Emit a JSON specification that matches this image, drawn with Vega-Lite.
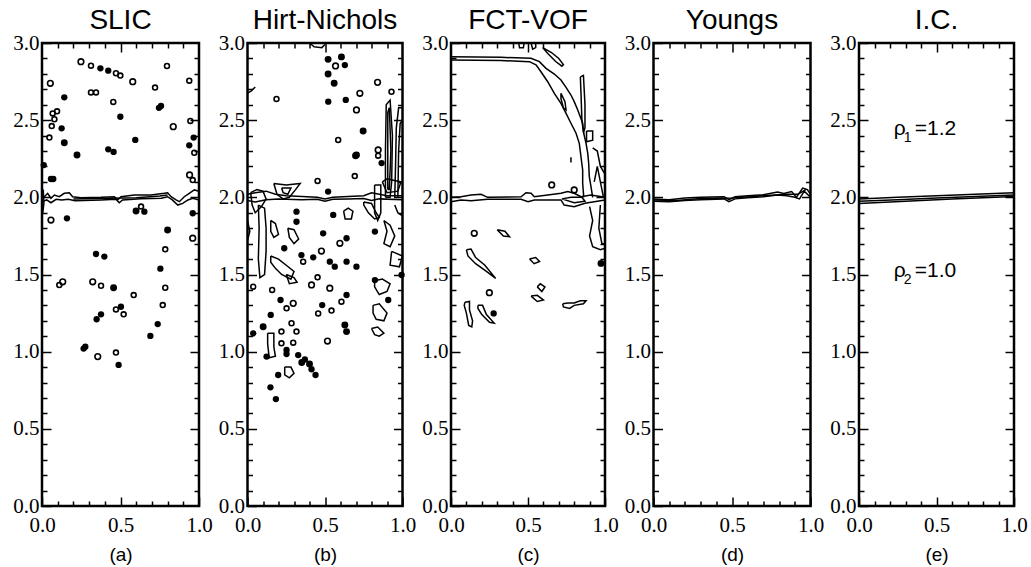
{
"$schema": "https://vega.github.io/schema/vega-lite/v6.json",
"background": "white",
"padding": {"left": 11, "top": 5, "right": 5, "bottom": 5},
"bounds": "flush",
"spacing": 48.5,
"config": {
  "view": {"stroke": "black", "strokeWidth": 2.5},
  "axis": {"domain": false, "grid": false, "labelFont": "Liberation Serif", "labelFontSize": 21, "labelColor": "black", "tickColor": "black", "tickWidth": 1.5, "labelOverlap": false, "labelFlush": false, "labelBound": false, "titleFont": "Liberation Sans", "titleFontSize": 19, "titleFontWeight": "normal", "titleColor": "black"},
  "axisBottom": {"labelPadding": 17, "titlePadding": 10},
  "axisLeft": {"labelPadding": 12},
  "title": {"font": "Liberation Sans", "fontSize": 28, "fontWeight": "normal", "color": "black", "baseline": "alphabetic", "offset": -3, "anchor": "middle"}
},
"datasets": {
  "frame": [{"x": 0, "y": 0}],
  "txt": [
    {"p": "e", "x": 0.224, "y": 2.404, "r": "ρ", "s": "1", "v": "=1.2"},
    {"p": "e", "x": 0.224, "y": 1.486, "r": "ρ", "s": "2", "v": "=1.0"}
  ],
  "pts": [
    {"p":"a","k":"O","x":0.248,"y":2.879},{"p":"a","k":"o","x":0.312,"y":2.853},{"p":"a","k":"d","x":0.372,"y":2.836},{"p":"a","k":"d","x":0.422,"y":2.821},{"p":"a","k":"o","x":0.471,"y":2.804},{"p":"a","k":"o","x":0.499,"y":2.789},{"p":"a","k":"O","x":0.578,"y":2.749},{"p":"a","k":"o","x":0.796,"y":2.851},{"p":"a","k":"o","x":0.72,"y":2.711},{"p":"a","k":"o","x":0.938,"y":2.756},{"p":"a","k":"O","x":0.053,"y":2.739},{"p":"a","k":"d","x":0.142,"y":2.648},{"p":"a","k":"o","x":0.312,"y":2.68},{"p":"a","k":"o","x":0.344,"y":2.68},{"p":"a","k":"o","x":0.454,"y":2.618},{"p":"a","k":"d","x":0.758,"y":2.592},{"p":"a","k":"d","x":0.745,"y":2.58},{"p":"a","k":"d","x":0.499,"y":2.522},{"p":"a","k":"o","x":0.068,"y":2.544},{"p":"a","k":"o","x":0.096,"y":2.557},{"p":"a","k":"o","x":0.079,"y":2.506},{"p":"a","k":"o","x":0.062,"y":2.462},{"p":"a","k":"o","x":0.047,"y":2.387},{"p":"a","k":"d","x":0.125,"y":2.447},{"p":"a","k":"t","x":0.142,"y":2.354},{"p":"a","k":"O","x":0.836,"y":2.458},{"p":"a","k":"o","x":0.945,"y":2.495},{"p":"a","k":"d","x":0.966,"y":2.387},{"p":"a","k":"d","x":0.594,"y":2.372},{"p":"a","k":"d","x":0.422,"y":2.311},{"p":"a","k":"d","x":0.456,"y":2.294},{"p":"a","k":"d","x":0.938,"y":2.337},{"p":"a","k":"o","x":0.97,"y":2.289},{"p":"a","k":"t","x":0.223,"y":2.274},{"p":"a","k":"d","x":0.011,"y":2.209},{"p":"a","k":"d","x":0.057,"y":2.119},{"p":"a","k":"d","x":0.072,"y":2.119},{"p":"a","k":"O","x":0.94,"y":2.145},{"p":"a","k":"o","x":0.96,"y":2.112},{"p":"a","k":"o","x":0.631,"y":1.94},{"p":"a","k":"d","x":0.652,"y":1.907},{"p":"a","k":"t","x":0.599,"y":1.911},{"p":"a","k":"O","x":0.057,"y":1.853},{"p":"a","k":"d","x":0.159,"y":1.864},{"p":"a","k":"t","x":0.8,"y":1.788},{"p":"a","k":"d","x":0.96,"y":1.897},{"p":"a","k":"O","x":0.96,"y":1.735},{"p":"a","k":"o","x":0.785,"y":1.663},{"p":"a","k":"d","x":0.344,"y":1.633},{"p":"a","k":"d","x":0.397,"y":1.616},{"p":"a","k":"d","x":0.754,"y":1.538},{"p":"a","k":"O","x":0.132,"y":1.453},{"p":"a","k":"o","x":0.11,"y":1.432},{"p":"a","k":"O","x":0.323,"y":1.453},{"p":"a","k":"o","x":0.376,"y":1.427},{"p":"a","k":"t","x":0.456,"y":1.414},{"p":"a","k":"o","x":0.785,"y":1.414},{"p":"a","k":"o","x":0.584,"y":1.367},{"p":"a","k":"o","x":0.769,"y":1.302},{"p":"a","k":"o","x":0.471,"y":1.274},{"p":"a","k":"d","x":0.503,"y":1.291},{"p":"a","k":"o","x":0.52,"y":1.242},{"p":"a","k":"d","x":0.376,"y":1.242},{"p":"a","k":"d","x":0.348,"y":1.21},{"p":"a","k":"d","x":0.737,"y":1.179},{"p":"a","k":"d","x":0.69,"y":1.102},{"p":"a","k":"d","x":0.276,"y":1.032},{"p":"a","k":"d","x":0.265,"y":1.02},{"p":"a","k":"O","x":0.355,"y":0.968},{"p":"a","k":"o","x":0.471,"y":0.994},{"p":"a","k":"d","x":0.488,"y":0.914},
    {"p":"b","k":"t","x":0.52,"y":2.894},{"p":"b","k":"O","x":0.568,"y":2.851},{"p":"b","k":"d","x":0.628,"y":2.857},{"p":"b","k":"t","x":0.606,"y":2.91},{"p":"b","k":"t","x":0.52,"y":2.799},{"p":"b","k":"t","x":0.559,"y":2.739},{"p":"b","k":"o","x":0.187,"y":2.637},{"p":"b","k":"O","x":0.839,"y":2.745},{"p":"b","k":"o","x":0.929,"y":2.684},{"p":"b","k":"O","x":0.725,"y":2.674},{"p":"b","k":"d","x":0.521,"y":2.62},{"p":"b","k":"d","x":0.634,"y":2.631},{"p":"b","k":"O","x":0.703,"y":2.566},{"p":"b","k":"t","x":0.746,"y":2.43},{"p":"b","k":"o","x":0.585,"y":2.372},{"p":"b","k":"t","x":0.703,"y":2.274},{"p":"b","k":"o","x":0.692,"y":2.138},{"p":"b","k":"o","x":0.452,"y":2.106},{"p":"b","k":"O","x":0.843,"y":2.307},{"p":"b","k":"o","x":0.843,"y":2.27},{"p":"b","k":"d","x":0.865,"y":2.222},{"p":"b","k":"d","x":0.316,"y":1.907},{"p":"b","k":"d","x":0.553,"y":1.886},{"p":"b","k":"d","x":0.52,"y":2.037},{"p":"b","k":"t","x":0.697,"y":2.27},{"p":"b","k":"d","x":0.316,"y":1.842},{"p":"b","k":"d","x":0.488,"y":1.767},{"p":"b","k":"O","x":0.596,"y":1.702},{"p":"b","k":"d","x":0.639,"y":1.735},{"p":"b","k":"d","x":0.822,"y":1.778},{"p":"b","k":"d","x":0.237,"y":1.67},{"p":"b","k":"O","x":0.477,"y":1.652},{"p":"b","k":"d","x":0.348,"y":1.626},{"p":"b","k":"d","x":0.424,"y":1.611},{"p":"b","k":"d","x":0.531,"y":1.583},{"p":"b","k":"d","x":0.563,"y":1.551},{"p":"b","k":"d","x":0.639,"y":1.583},{"p":"b","k":"d","x":0.703,"y":1.551},{"p":"b","k":"o","x":0.359,"y":1.583},{"p":"b","k":"o","x":0.452,"y":1.482},{"p":"b","k":"O","x":0.413,"y":1.432},{"p":"b","k":"O","x":0.531,"y":1.411},{"p":"b","k":"o","x":0.037,"y":1.421},{"p":"b","k":"o","x":0.159,"y":1.4},{"p":"b","k":"d","x":0.213,"y":1.335},{"p":"b","k":"O","x":0.295,"y":1.313},{"p":"b","k":"o","x":0.252,"y":1.281},{"p":"b","k":"d","x":0.639,"y":1.367},{"p":"b","k":"o","x":0.606,"y":1.324},{"p":"b","k":"d","x":0.482,"y":1.302},{"p":"b","k":"o","x":0.542,"y":1.266},{"p":"b","k":"o","x":0.456,"y":1.248},{"p":"b","k":"d","x":0.15,"y":1.238},{"p":"b","k":"d","x":0.822,"y":1.464},{"p":"b","k":"d","x":0.908,"y":1.335},{"p":"b","k":"d","x":0.994,"y":1.497},{"p":"b","k":"t","x":0.628,"y":1.173},{"p":"b","k":"t","x":0.639,"y":1.13},{"p":"b","k":"o","x":0.284,"y":1.184},{"p":"b","k":"o","x":0.219,"y":1.13},{"p":"b","k":"o","x":0.316,"y":1.13},{"p":"b","k":"O","x":0.516,"y":1.069},{"p":"b","k":"d","x":0.037,"y":1.119},{"p":"b","k":"t","x":0.101,"y":1.162},{"p":"b","k":"d","x":0.123,"y":0.968},{"p":"b","k":"d","x":0.252,"y":1.011},{"p":"b","k":"o","x":0.219,"y":1.054},{"p":"b","k":"o","x":0.295,"y":1.058},{"p":"b","k":"d","x":0.327,"y":0.978},{"p":"b","k":"d","x":0.37,"y":0.95},{"p":"b","k":"d","x":0.413,"y":0.886},{"p":"b","k":"d","x":0.439,"y":0.849},{"p":"b","k":"d","x":0.252,"y":0.985},{"p":"b","k":"d","x":0.198,"y":0.849},{"p":"b","k":"d","x":0.148,"y":0.769},{"p":"b","k":"d","x":0.183,"y":0.693},{"p":"b","k":"t","x":0.4,"y":0.92},{"p":"b","k":"t","x":0.35,"y":0.93},
    {"p":"c","k":"O","x":0.151,"y":1.767},{"p":"c","k":"O","x":0.249,"y":1.382},{"p":"c","k":"O","x":0.654,"y":2.08},{"p":"c","k":"O","x":0.8,"y":2.048},{"p":"c","k":"d","x":0.277,"y":1.248},{"p":"c","k":"t","x":0.974,"y":1.572}
  ],
  "lines": [
    {"p":"a","id":"a1","x":0,"y":1.987},{"p":"a","id":"a1","x":0.015,"y":2.004},{"p":"a","id":"a1","x":0.036,"y":2.026},{"p":"a","id":"a1","x":0.057,"y":1.994},{"p":"a","id":"a1","x":0.079,"y":2.015},{"p":"a","id":"a1","x":0.11,"y":2.004},{"p":"a","id":"a1","x":0.142,"y":2.026},{"p":"a","id":"a1","x":0.174,"y":2.03},{"p":"a","id":"a1","x":0.195,"y":2.004},{"p":"a","id":"a1","x":0.248,"y":1.998},{"p":"a","id":"a1","x":0.376,"y":2.0},{"p":"a","id":"a1","x":0.461,"y":2.004},{"p":"a","id":"a1","x":0.482,"y":1.983},{"p":"a","id":"a1","x":0.503,"y":2.004},{"p":"a","id":"a1","x":0.588,"y":2.015},{"p":"a","id":"a1","x":0.694,"y":2.015},{"p":"a","id":"a1","x":0.779,"y":2.026},{"p":"a","id":"a1","x":0.8,"y":2.03},{"p":"a","id":"a1","x":0.822,"y":2.004},{"p":"a","id":"a1","x":0.854,"y":1.983},{"p":"a","id":"a1","x":0.875,"y":1.972},{"p":"a","id":"a1","x":0.906,"y":2.004},{"p":"a","id":"a1","x":0.938,"y":2.026},{"p":"a","id":"a1","x":0.97,"y":2.048},{"p":"a","id":"a1","x":1,"y":2.04},
    {"p":"a","id":"a2","x":0,"y":1.972},{"p":"a","id":"a2","x":0.03,"y":1.983},{"p":"a","id":"a2","x":0.057,"y":1.965},{"p":"a","id":"a2","x":0.09,"y":1.987},{"p":"a","id":"a2","x":0.125,"y":1.983},{"p":"a","id":"a2","x":0.168,"y":1.987},{"p":"a","id":"a2","x":0.21,"y":1.978},{"p":"a","id":"a2","x":0.376,"y":1.983},{"p":"a","id":"a2","x":0.471,"y":1.987},{"p":"a","id":"a2","x":0.492,"y":1.965},{"p":"a","id":"a2","x":0.513,"y":1.983},{"p":"a","id":"a2","x":0.63,"y":1.991},{"p":"a","id":"a2","x":0.76,"y":1.994},{"p":"a","id":"a2","x":0.8,"y":2.004},{"p":"a","id":"a2","x":0.83,"y":1.983},{"p":"a","id":"a2","x":0.865,"y":1.95},{"p":"a","id":"a2","x":0.896,"y":1.961},{"p":"a","id":"a2","x":0.93,"y":1.983},{"p":"a","id":"a2","x":0.96,"y":1.994},{"p":"a","id":"a2","x":1,"y":1.983},
    {"p":"a","id":"a3","x":0.005,"y":1.9},{"p":"a","id":"a3","x":0.012,"y":1.96},{"p":"a","id":"a3","x":0.008,"y":2.05},
    {"p":"a","id":"a4","x":0.2,"y":1.99},{"p":"a","id":"a4","x":0.35,"y":1.992},{"p":"a","id":"a4","x":0.6,"y":1.997},{"p":"a","id":"a4","x":0.75,"y":2.008},{"p":"a","id":"a4","x":0.8,"y":2.015},
    {"p":"b","id":"b1","x":0,"y":2.02},{"p":"b","id":"b1","x":0.05,"y":2.03},{"p":"b","id":"b1","x":0.12,"y":2.04},{"p":"b","id":"b1","x":0.18,"y":2.02},{"p":"b","id":"b1","x":0.25,"y":2.01},{"p":"b","id":"b1","x":0.35,"y":2.005},{"p":"b","id":"b1","x":0.45,"y":2.0},{"p":"b","id":"b1","x":0.5,"y":1.99},{"p":"b","id":"b1","x":0.55,"y":2.0},{"p":"b","id":"b1","x":0.65,"y":2.005},{"p":"b","id":"b1","x":0.75,"y":2.01},{"p":"b","id":"b1","x":0.8,"y":2.03},{"p":"b","id":"b1","x":0.85,"y":2.02},{"p":"b","id":"b1","x":0.9,"y":2.01},{"p":"b","id":"b1","x":1,"y":2.01},
    {"p":"b","id":"b2","x":0,"y":1.98},{"p":"b","id":"b2","x":0.05,"y":1.97},{"p":"b","id":"b2","x":0.12,"y":1.985},{"p":"b","id":"b2","x":0.2,"y":1.99},{"p":"b","id":"b2","x":0.35,"y":1.985},{"p":"b","id":"b2","x":0.45,"y":1.987},{"p":"b","id":"b2","x":0.5,"y":1.975},{"p":"b","id":"b2","x":0.55,"y":1.988},{"p":"b","id":"b2","x":0.65,"y":1.99},{"p":"b","id":"b2","x":0.75,"y":1.992},{"p":"b","id":"b2","x":0.8,"y":1.98},{"p":"b","id":"b2","x":0.85,"y":1.99},{"p":"b","id":"b2","x":1,"y":1.985},
    {"p":"b","id":"b3","x":0.02,"y":2.03},{"p":"b","id":"b3","x":0.06,"y":2.05},{"p":"b","id":"b3","x":0.1,"y":2.04},{"p":"b","id":"b3","x":0.12,"y":1.99},{"p":"b","id":"b3","x":0.09,"y":1.94},{"p":"b","id":"b3","x":0.05,"y":1.9},{"p":"b","id":"b3","x":0.03,"y":1.95},{"p":"b","id":"b3","x":0.02,"y":2.03},
    {"p":"b","id":"b4","x":0.17,"y":2.09},{"p":"b","id":"b4","x":0.25,"y":2.08},{"p":"b","id":"b4","x":0.34,"y":2.09},{"p":"b","id":"b4","x":0.31,"y":2.05},{"p":"b","id":"b4","x":0.27,"y":2.0},{"p":"b","id":"b4","x":0.23,"y":1.99},{"p":"b","id":"b4","x":0.19,"y":2.02},{"p":"b","id":"b4","x":0.17,"y":2.09},
    {"p":"b","id":"b4b","x":0.22,"y":2.06},{"p":"b","id":"b4b","x":0.28,"y":2.06},{"p":"b","id":"b4b","x":0.26,"y":2.02},{"p":"b","id":"b4b","x":0.23,"y":2.03},{"p":"b","id":"b4b","x":0.22,"y":2.06},
    {"p":"b","id":"b5","x":0.07,"y":1.95},{"p":"b","id":"b5","x":0.11,"y":1.93},{"p":"b","id":"b5","x":0.12,"y":1.8},{"p":"b","id":"b5","x":0.12,"y":1.65},{"p":"b","id":"b5","x":0.11,"y":1.5},{"p":"b","id":"b5","x":0.08,"y":1.48},{"p":"b","id":"b5","x":0.07,"y":1.6},{"p":"b","id":"b5","x":0.075,"y":1.8},{"p":"b","id":"b5","x":0.07,"y":1.95},
    {"p":"b","id":"b5b","x":0,"y":1.72},{"p":"b","id":"b5b","x":0.015,"y":1.78},{"p":"b","id":"b5b","x":0,"y":1.85},
    {"p":"b","id":"b6","x":0.75,"y":1.97},{"p":"b","id":"b6","x":0.8,"y":1.96},{"p":"b","id":"b6","x":0.83,"y":1.9},{"p":"b","id":"b6","x":0.85,"y":1.87},{"p":"b","id":"b6","x":0.82,"y":1.86},{"p":"b","id":"b6","x":0.78,"y":1.9},{"p":"b","id":"b6","x":0.75,"y":1.95},{"p":"b","id":"b6","x":0.75,"y":1.97},
    {"p":"b","id":"b7","x":0.82,"y":2.08},{"p":"b","id":"b7","x":0.86,"y":2.08},{"p":"b","id":"b7","x":0.86,"y":1.9},{"p":"b","id":"b7","x":0.84,"y":1.85},{"p":"b","id":"b7","x":0.82,"y":1.9},{"p":"b","id":"b7","x":0.82,"y":2.08},
    {"p":"b","id":"b8","x":0.89,"y":2.0},{"p":"b","id":"b8","x":0.89,"y":2.3},{"p":"b","id":"b8","x":0.895,"y":2.6},{"p":"b","id":"b8","x":0.92,"y":2.63},{"p":"b","id":"b8","x":0.935,"y":2.4},{"p":"b","id":"b8","x":0.93,"y":2.1},{"p":"b","id":"b8","x":0.92,"y":2.0},{"p":"b","id":"b8","x":0.89,"y":2.0},
    {"p":"b","id":"b9","x":0.905,"y":2.05},{"p":"b","id":"b9","x":0.905,"y":2.55},{"p":"b","id":"b9","x":0.915,"y":2.58},{"p":"b","id":"b9","x":0.925,"y":2.3},{"p":"b","id":"b9","x":0.915,"y":2.05},{"p":"b","id":"b9","x":0.905,"y":2.05},
    {"p":"b","id":"b10","x":0.95,"y":2.0},{"p":"b","id":"b10","x":0.955,"y":2.2},{"p":"b","id":"b10","x":0.96,"y":2.45},{"p":"b","id":"b10","x":0.975,"y":2.58},{"p":"b","id":"b10","x":1,"y":2.58},
    {"p":"b","id":"b10b","x":0.97,"y":2.0},{"p":"b","id":"b10b","x":0.975,"y":2.3},{"p":"b","id":"b10b","x":0.985,"y":2.48},{"p":"b","id":"b10b","x":1,"y":2.5},
    {"p":"b","id":"b11","x":0.87,"y":2.1},{"p":"b","id":"b11","x":0.9,"y":2.12},{"p":"b","id":"b11","x":0.99,"y":2.1},{"p":"b","id":"b11","x":0.97,"y":2.04},{"p":"b","id":"b11","x":0.9,"y":2.03},{"p":"b","id":"b11","x":0.87,"y":2.1},
    {"p":"b","id":"b12","x":0.88,"y":1.85},{"p":"b","id":"b12","x":0.92,"y":1.82},{"p":"b","id":"b12","x":0.95,"y":1.75},{"p":"b","id":"b12","x":0.92,"y":1.68},{"p":"b","id":"b12","x":0.88,"y":1.7},{"p":"b","id":"b12","x":0.9,"y":1.78},{"p":"b","id":"b12","x":0.88,"y":1.85},
    {"p":"b","id":"b13","x":0.93,"y":1.65},{"p":"b","id":"b13","x":1,"y":1.62},{"p":"b","id":"b13","x":0.98,"y":1.55},{"p":"b","id":"b13","x":0.92,"y":1.56},{"p":"b","id":"b13","x":0.93,"y":1.65},
    {"p":"b","id":"b13b","x":0.95,"y":1.95},{"p":"b","id":"b13b","x":0.97,"y":1.9},{"p":"b","id":"b13b","x":1,"y":1.88},
    {"p":"b","id":"b14","x":0.82,"y":1.46},{"p":"b","id":"b14","x":0.87,"y":1.47},{"p":"b","id":"b14","x":0.92,"y":1.44},{"p":"b","id":"b14","x":0.9,"y":1.39},{"p":"b","id":"b14","x":0.85,"y":1.37},{"p":"b","id":"b14","x":0.82,"y":1.42},{"p":"b","id":"b14","x":0.82,"y":1.46},
    {"p":"b","id":"b15","x":0.81,"y":1.3},{"p":"b","id":"b15","x":0.85,"y":1.31},{"p":"b","id":"b15","x":0.9,"y":1.25},{"p":"b","id":"b15","x":0.88,"y":1.2},{"p":"b","id":"b15","x":0.83,"y":1.21},{"p":"b","id":"b15","x":0.81,"y":1.25},{"p":"b","id":"b15","x":0.81,"y":1.3},
    {"p":"b","id":"b16","x":0.8,"y":1.15},{"p":"b","id":"b16","x":0.84,"y":1.16},{"p":"b","id":"b16","x":0.88,"y":1.12},{"p":"b","id":"b16","x":0.85,"y":1.1},{"p":"b","id":"b16","x":0.82,"y":1.11},{"p":"b","id":"b16","x":0.8,"y":1.15},
    {"p":"b","id":"b17","x":0.15,"y":1.62},{"p":"b","id":"b17","x":0.2,"y":1.6},{"p":"b","id":"b17","x":0.25,"y":1.56},{"p":"b","id":"b17","x":0.3,"y":1.52},{"p":"b","id":"b17","x":0.28,"y":1.47},{"p":"b","id":"b17","x":0.22,"y":1.5},{"p":"b","id":"b17","x":0.18,"y":1.54},{"p":"b","id":"b17","x":0.15,"y":1.58},{"p":"b","id":"b17","x":0.15,"y":1.62},
    {"p":"b","id":"b18","x":0.25,"y":1.5},{"p":"b","id":"b18","x":0.3,"y":1.48},{"p":"b","id":"b18","x":0.32,"y":1.45},{"p":"b","id":"b18","x":0.27,"y":1.44},{"p":"b","id":"b18","x":0.25,"y":1.5},
    {"p":"b","id":"b19","x":0.26,"y":1.8},{"p":"b","id":"b19","x":0.3,"y":1.79},{"p":"b","id":"b19","x":0.33,"y":1.73},{"p":"b","id":"b19","x":0.3,"y":1.7},{"p":"b","id":"b19","x":0.27,"y":1.74},{"p":"b","id":"b19","x":0.26,"y":1.8},
    {"p":"b","id":"b20","x":0.15,"y":1.85},{"p":"b","id":"b20","x":0.18,"y":1.83},{"p":"b","id":"b20","x":0.2,"y":1.76},{"p":"b","id":"b20","x":0.17,"y":1.74},{"p":"b","id":"b20","x":0.15,"y":1.78},{"p":"b","id":"b20","x":0.15,"y":1.85},
    {"p":"b","id":"b21","x":0.13,"y":1.12},{"p":"b","id":"b21","x":0.17,"y":1.12},{"p":"b","id":"b21","x":0.17,"y":1.03},{"p":"b","id":"b21","x":0.18,"y":0.97},{"p":"b","id":"b21","x":0.14,"y":0.96},{"p":"b","id":"b21","x":0.13,"y":1.05},{"p":"b","id":"b21","x":0.13,"y":1.12},
    {"p":"b","id":"b22","x":0.24,"y":0.9},{"p":"b","id":"b22","x":0.28,"y":0.9},{"p":"b","id":"b22","x":0.3,"y":0.86},{"p":"b","id":"b22","x":0.27,"y":0.83},{"p":"b","id":"b22","x":0.24,"y":0.85},{"p":"b","id":"b22","x":0.24,"y":0.9},
    {"p":"b","id":"b23","x":0.62,"y":1.91},{"p":"b","id":"b23","x":0.65,"y":1.93},{"p":"b","id":"b23","x":0.68,"y":1.91},{"p":"b","id":"b23","x":0.67,"y":1.86},{"p":"b","id":"b23","x":0.63,"y":1.86},{"p":"b","id":"b23","x":0.62,"y":1.91},
    {"p":"b","id":"b24","x":0.4,"y":3.0},{"p":"b","id":"b24","x":0.43,"y":2.975},{"p":"b","id":"b24","x":0.48,"y":2.97},{"p":"b","id":"b24","x":0.5,"y":2.99},
    {"p":"b","id":"b25","x":0,"y":2.675},{"p":"b","id":"b25","x":0.025,"y":2.69},{"p":"b","id":"b25","x":0.05,"y":2.715},
    {"p":"c","id":"c1","x":0,"y":2.0},{"p":"c","id":"c1","x":0.065,"y":2.004},{"p":"c","id":"c1","x":0.13,"y":2.015},{"p":"c","id":"c1","x":0.195,"y":2.02},{"p":"c","id":"c1","x":0.238,"y":2.0},{"p":"c","id":"c1","x":0.455,"y":2.004},{"p":"c","id":"c1","x":0.487,"y":2.03},{"p":"c","id":"c1","x":0.52,"y":2.026},{"p":"c","id":"c1","x":0.541,"y":2.004},{"p":"c","id":"c1","x":0.628,"y":2.015},{"p":"c","id":"c1","x":0.714,"y":2.026},{"p":"c","id":"c1","x":0.758,"y":2.037},{"p":"c","id":"c1","x":0.8,"y":2.026},{"p":"c","id":"c1","x":0.844,"y":2.004},{"p":"c","id":"c1","x":0.909,"y":2.015},{"p":"c","id":"c1","x":1,"y":2.0},
    {"p":"c","id":"c2","x":0,"y":1.972},{"p":"c","id":"c2","x":0.065,"y":1.983},{"p":"c","id":"c2","x":0.13,"y":1.978},{"p":"c","id":"c2","x":0.238,"y":1.987},{"p":"c","id":"c2","x":0.455,"y":1.987},{"p":"c","id":"c2","x":0.5,"y":1.972},{"p":"c","id":"c2","x":0.541,"y":1.983},{"p":"c","id":"c2","x":0.714,"y":1.983},{"p":"c","id":"c2","x":0.735,"y":1.95},{"p":"c","id":"c2","x":0.8,"y":1.939},{"p":"c","id":"c2","x":0.87,"y":1.961},{"p":"c","id":"c2","x":1,"y":1.983},
    {"p":"c","id":"c3","x":0.72,"y":1.99},{"p":"c","id":"c3","x":0.8,"y":1.965},{"p":"c","id":"c3","x":0.87,"y":1.975},{"p":"c","id":"c3","x":0.85,"y":2.0},{"p":"c","id":"c3","x":0.78,"y":2.0},{"p":"c","id":"c3","x":0.72,"y":1.99},
    {"p":"c","id":"c4","x":0,"y":2.911},{"p":"c","id":"c4","x":0.325,"y":2.907},{"p":"c","id":"c4","x":0.519,"y":2.901},{"p":"c","id":"c4","x":0.574,"y":2.879},{"p":"c","id":"c4","x":0.617,"y":2.836},{"p":"c","id":"c4","x":0.671,"y":2.799},{"p":"c","id":"c4","x":0.714,"y":2.76},{"p":"c","id":"c4","x":0.747,"y":2.713},{"p":"c","id":"c4","x":0.779,"y":2.663},{"p":"c","id":"c4","x":0.8,"y":2.62},{"p":"c","id":"c4","x":0.823,"y":2.566},{"p":"c","id":"c4","x":0.855,"y":2.48},{"p":"c","id":"c4","x":0.862,"y":2.415},{"p":"c","id":"c4","x":0.877,"y":2.35},{"p":"c","id":"c4","x":0.888,"y":2.285},{"p":"c","id":"c4","x":0.894,"y":2.221},{"p":"c","id":"c4","x":0.898,"y":2.134},{"p":"c","id":"c4","x":0.909,"y":2.069},{"p":"c","id":"c4","x":0.92,"y":2.0},
    {"p":"c","id":"c5","x":0,"y":2.89},{"p":"c","id":"c5","x":0.325,"y":2.886},{"p":"c","id":"c5","x":0.509,"y":2.879},{"p":"c","id":"c5","x":0.552,"y":2.858},{"p":"c","id":"c5","x":0.584,"y":2.814},{"p":"c","id":"c5","x":0.628,"y":2.749},{"p":"c","id":"c5","x":0.671,"y":2.674},{"p":"c","id":"c5","x":0.714,"y":2.609},{"p":"c","id":"c5","x":0.747,"y":2.544},{"p":"c","id":"c5","x":0.779,"y":2.48},{"p":"c","id":"c5","x":0.812,"y":2.415},{"p":"c","id":"c5","x":0.833,"y":2.35},{"p":"c","id":"c5","x":0.844,"y":2.263},{"p":"c","id":"c5","x":0.855,"y":2.177},{"p":"c","id":"c5","x":0.855,"y":2.091},{"p":"c","id":"c5","x":0.862,"y":2.0},
    {"p":"c","id":"c6","x":0.595,"y":2.97},{"p":"c","id":"c6","x":0.65,"y":2.94},{"p":"c","id":"c6","x":0.7,"y":2.9},{"p":"c","id":"c6","x":0.73,"y":2.86},{"p":"c","id":"c6","x":0.72,"y":2.85},{"p":"c","id":"c6","x":0.68,"y":2.88},{"p":"c","id":"c6","x":0.63,"y":2.93},{"p":"c","id":"c6","x":0.595,"y":2.97},
    {"p":"c","id":"c7","x":0.714,"y":2.674},{"p":"c","id":"c7","x":0.74,"y":2.62},{"p":"c","id":"c7","x":0.747,"y":2.566},{"p":"c","id":"c7","x":0.73,"y":2.58},{"p":"c","id":"c7","x":0.714,"y":2.64},{"p":"c","id":"c7","x":0.714,"y":2.674},
    {"p":"c","id":"c8","x":0.84,"y":2.78},{"p":"c","id":"c8","x":0.86,"y":2.79},{"p":"c","id":"c8","x":0.87,"y":2.6},{"p":"c","id":"c8","x":0.87,"y":2.45},{"p":"c","id":"c8","x":0.86,"y":2.42},{"p":"c","id":"c8","x":0.85,"y":2.5},{"p":"c","id":"c8","x":0.845,"y":2.65},{"p":"c","id":"c8","x":0.84,"y":2.78},
    {"p":"c","id":"c9","x":0.88,"y":2.43},{"p":"c","id":"c9","x":0.92,"y":2.43},{"p":"c","id":"c9","x":0.92,"y":2.37},{"p":"c","id":"c9","x":0.88,"y":2.36},{"p":"c","id":"c9","x":0.88,"y":2.43},
    {"p":"c","id":"c10","x":0.92,"y":2.32},{"p":"c","id":"c10","x":0.95,"y":2.3},{"p":"c","id":"c10","x":0.97,"y":2.2},{"p":"c","id":"c10","x":1,"y":2.15},
    {"p":"c","id":"c11","x":0.93,"y":2.1},{"p":"c","id":"c11","x":0.95,"y":2.2},{"p":"c","id":"c11","x":0.97,"y":2.1},{"p":"c","id":"c11","x":0.99,"y":2.0},
    {"p":"c","id":"c12","x":0.9,"y":1.94},{"p":"c","id":"c12","x":0.92,"y":1.85},{"p":"c","id":"c12","x":0.9,"y":1.75},{"p":"c","id":"c12","x":0.92,"y":1.68},{"p":"c","id":"c12","x":0.97,"y":1.66},{"p":"c","id":"c12","x":1,"y":1.67},
    {"p":"c","id":"c13","x":0.97,"y":1.95},{"p":"c","id":"c13","x":0.96,"y":1.8},{"p":"c","id":"c13","x":0.98,"y":1.7},{"p":"c","id":"c13","x":1,"y":1.7},
    {"p":"c","id":"c14","x":0.779,"y":2.225},{"p":"c","id":"c14","x":0.779,"y":2.26},
    {"p":"c","id":"c15","x":0.44,"y":3.0},{"p":"c","id":"c15","x":0.445,"y":2.97},{"p":"c","id":"c15","x":0.47,"y":2.97},{"p":"c","id":"c15","x":0.475,"y":3.0},
    {"p":"c","id":"c16","x":0.52,"y":3.0},{"p":"c","id":"c16","x":0.53,"y":2.96},{"p":"c","id":"c16","x":0.55,"y":2.97},{"p":"c","id":"c16","x":0.55,"y":3.0},
    {"p":"c","id":"c17","x":0.3,"y":1.79},{"p":"c","id":"c17","x":0.35,"y":1.78},{"p":"c","id":"c17","x":0.38,"y":1.745},{"p":"c","id":"c17","x":0.34,"y":1.75},{"p":"c","id":"c17","x":0.3,"y":1.79},
    {"p":"c","id":"c18","x":0.1,"y":1.66},{"p":"c","id":"c18","x":0.13,"y":1.665},{"p":"c","id":"c18","x":0.16,"y":1.61},{"p":"c","id":"c18","x":0.22,"y":1.56},{"p":"c","id":"c18","x":0.29,"y":1.475},{"p":"c","id":"c18","x":0.23,"y":1.52},{"p":"c","id":"c18","x":0.16,"y":1.57},{"p":"c","id":"c18","x":0.11,"y":1.62},{"p":"c","id":"c18","x":0.1,"y":1.66},
    {"p":"c","id":"c19","x":0.09,"y":1.32},{"p":"c","id":"c19","x":0.12,"y":1.325},{"p":"c","id":"c19","x":0.12,"y":1.27},{"p":"c","id":"c19","x":0.14,"y":1.2},{"p":"c","id":"c19","x":0.135,"y":1.16},{"p":"c","id":"c19","x":0.115,"y":1.17},{"p":"c","id":"c19","x":0.1,"y":1.25},{"p":"c","id":"c19","x":0.086,"y":1.3},{"p":"c","id":"c19","x":0.09,"y":1.32},
    {"p":"c","id":"c20","x":0.175,"y":1.3},{"p":"c","id":"c20","x":0.205,"y":1.3},{"p":"c","id":"c20","x":0.23,"y":1.24},{"p":"c","id":"c20","x":0.28,"y":1.185},{"p":"c","id":"c20","x":0.25,"y":1.19},{"p":"c","id":"c20","x":0.2,"y":1.24},{"p":"c","id":"c20","x":0.175,"y":1.28},{"p":"c","id":"c20","x":0.175,"y":1.3},
    {"p":"c","id":"c21","x":0.51,"y":1.6},{"p":"c","id":"c21","x":0.55,"y":1.61},{"p":"c","id":"c21","x":0.575,"y":1.585},{"p":"c","id":"c21","x":0.54,"y":1.57},{"p":"c","id":"c21","x":0.51,"y":1.6},
    {"p":"c","id":"c22","x":0.56,"y":1.42},{"p":"c","id":"c22","x":0.58,"y":1.44},{"p":"c","id":"c22","x":0.61,"y":1.42},{"p":"c","id":"c22","x":0.59,"y":1.39},{"p":"c","id":"c22","x":0.56,"y":1.42},
    {"p":"c","id":"c23","x":0.52,"y":1.36},{"p":"c","id":"c23","x":0.56,"y":1.365},{"p":"c","id":"c23","x":0.6,"y":1.335},{"p":"c","id":"c23","x":0.56,"y":1.325},{"p":"c","id":"c23","x":0.52,"y":1.36},
    {"p":"c","id":"c24","x":0.725,"y":1.31},{"p":"c","id":"c24","x":0.76,"y":1.315},{"p":"c","id":"c24","x":0.8,"y":1.315},{"p":"c","id":"c24","x":0.84,"y":1.33},{"p":"c","id":"c24","x":0.877,"y":1.33},{"p":"c","id":"c24","x":0.86,"y":1.31},{"p":"c","id":"c24","x":0.8,"y":1.3},{"p":"c","id":"c24","x":0.77,"y":1.28},{"p":"c","id":"c24","x":0.73,"y":1.29},{"p":"c","id":"c24","x":0.725,"y":1.31},
    {"p":"d","id":"d1","x":0,"y":1.99},{"p":"d","id":"d1","x":0.1,"y":1.985},{"p":"d","id":"d1","x":0.2,"y":1.995},{"p":"d","id":"d1","x":0.3,"y":2.0},{"p":"d","id":"d1","x":0.45,"y":2.004},{"p":"d","id":"d1","x":0.48,"y":1.985},{"p":"d","id":"d1","x":0.52,"y":2.004},{"p":"d","id":"d1","x":0.6,"y":2.01},{"p":"d","id":"d1","x":0.7,"y":2.017},{"p":"d","id":"d1","x":0.79,"y":2.035},{"p":"d","id":"d1","x":0.83,"y":2.025},{"p":"d","id":"d1","x":0.88,"y":2.037},{"p":"d","id":"d1","x":0.91,"y":2.0},{"p":"d","id":"d1","x":0.95,"y":2.06},{"p":"d","id":"d1","x":0.98,"y":2.05},{"p":"d","id":"d1","x":1,"y":2.02},
    {"p":"d","id":"d2","x":0,"y":1.975},{"p":"d","id":"d2","x":0.1,"y":1.972},{"p":"d","id":"d2","x":0.2,"y":1.98},{"p":"d","id":"d2","x":0.3,"y":1.985},{"p":"d","id":"d2","x":0.45,"y":1.99},{"p":"d","id":"d2","x":0.48,"y":1.972},{"p":"d","id":"d2","x":0.52,"y":1.99},{"p":"d","id":"d2","x":0.6,"y":1.998},{"p":"d","id":"d2","x":0.7,"y":2.004},{"p":"d","id":"d2","x":0.79,"y":2.015},{"p":"d","id":"d2","x":0.85,"y":2.01},{"p":"d","id":"d2","x":0.9,"y":2.0},{"p":"d","id":"d2","x":0.93,"y":1.99},{"p":"d","id":"d2","x":0.96,"y":2.04},{"p":"d","id":"d2","x":1,"y":2.0},
    {"p":"d","id":"d3","x":0,"y":1.982},{"p":"d","id":"d3","x":0.15,"y":1.98},{"p":"d","id":"d3","x":0.3,"y":1.992},{"p":"d","id":"d3","x":0.5,"y":1.996},{"p":"d","id":"d3","x":0.7,"y":2.01},{"p":"d","id":"d3","x":0.85,"y":2.02},{"p":"d","id":"d3","x":0.92,"y":2.02},{"p":"d","id":"d3","x":0.97,"y":2.05},
    {"p":"e","id":"e1","x":0,"y":1.99},{"p":"e","id":"e1","x":0.25,"y":2.0},{"p":"e","id":"e1","x":0.5,"y":2.01},{"p":"e","id":"e1","x":0.75,"y":2.02},{"p":"e","id":"e1","x":1,"y":2.03},
    {"p":"e","id":"e2","x":0,"y":1.975},{"p":"e","id":"e2","x":0.25,"y":1.985},{"p":"e","id":"e2","x":0.5,"y":1.995},{"p":"e","id":"e2","x":0.75,"y":2.005},{"p":"e","id":"e2","x":1,"y":2.015},
    {"p":"e","id":"e3","x":0,"y":1.96},{"p":"e","id":"e3","x":0.3,"y":1.975},{"p":"e","id":"e3","x":0.6,"y":1.99},{"p":"e","id":"e3","x":1,"y":2.005}
  ]
},
"hconcat": [
  {
    "width": 157, "height": 463,
    "title": {"text": "SLIC"},
    "resolve": {"axis": {"x": "independent", "y": "independent"}},
    "layer": [
      {"data": {"name": "frame"}, "mark": {"type": "point", "opacity": 0},
       "encoding": {
         "x": {"field": "x", "type": "quantitative", "scale": {"domain": [0, 1], "nice": false, "zero": false}, "axis": {"orient": "bottom", "values": [0, 0.5, 1], "format": ".1f", "tickSize": -9, "title": "(a)"}},
         "y": {"field": "y", "type": "quantitative", "scale": {"domain": [0, 3], "nice": false, "zero": false}, "axis": {"orient": "left", "values": [0, 0.5, 1, 1.5, 2, 2.5, 3], "format": ".1f", "tickSize": -9, "title": null}}}},
      {"data": {"name": "frame"}, "mark": {"type": "point", "opacity": 0},
       "encoding": {
         "x": {"field": "x", "type": "quantitative", "axis": {"orient": "bottom", "values": [0.1,0.2,0.3,0.4,0.6,0.7,0.8,0.9], "tickSize": -5, "labels": false, "title": null}},
         "y": {"field": "y", "type": "quantitative", "axis": {"orient": "left", "values": [0.1,0.2,0.3,0.4,0.6,0.7,0.8,0.9,1.1,1.2,1.3,1.4,1.6,1.7,1.8,1.9,2.1,2.2,2.3,2.4,2.6,2.7,2.8,2.9], "tickSize": -5, "labels": false, "title": null}}}},
      {"data": {"name": "frame"}, "mark": {"type": "point", "opacity": 0},
       "encoding": {
         "x": {"field": "x", "type": "quantitative", "axis": {"orient": "top", "values": [0.5], "tickSize": -9, "labels": false, "title": null}},
         "y": {"field": "y", "type": "quantitative", "axis": {"orient": "right", "values": [0.5, 1, 1.5, 2, 2.5], "tickSize": -9, "labels": false, "title": null}}}},
      {"data": {"name": "frame"}, "mark": {"type": "point", "opacity": 0},
       "encoding": {
         "x": {"field": "x", "type": "quantitative", "axis": {"orient": "top", "values": [0.1,0.2,0.3,0.4,0.6,0.7,0.8,0.9], "tickSize": -5, "labels": false, "title": null}},
         "y": {"field": "y", "type": "quantitative", "axis": {"orient": "right", "values": [0.1,0.2,0.3,0.4,0.6,0.7,0.8,0.9,1.1,1.2,1.3,1.4,1.6,1.7,1.8,1.9,2.1,2.2,2.3,2.4,2.6,2.7,2.8,2.9], "tickSize": -5, "labels": false, "title": null}}}},
      {"data": {"name": "lines"}, "transform": [{"filter": "datum.p == 'a'"}], "mark": {"type": "line", "stroke": "black", "strokeWidth": 1.5},
       "encoding": {"x": {"field": "x", "type": "quantitative", "axis": null}, "y": {"field": "y", "type": "quantitative", "axis": null}, "detail": {"field": "id"}, "order": {"value": null}}},
      {"data": {"name": "pts"}, "transform": [{"filter": "datum.p == 'a' && (datum.k == 'o' || datum.k == 'O')"}], "mark": {"type": "point", "shape": "circle", "filled": false, "stroke": "black", "strokeWidth": 1.6, "opacity": 1},
       "encoding": {"x": {"field": "x", "type": "quantitative", "axis": null}, "y": {"field": "y", "type": "quantitative", "axis": null}, "size": {"field": "k", "type": "ordinal", "scale": {"domain": ["o", "O", "d", "t"], "range": [24, 48, 22, 6]}, "legend": null}}},
      {"data": {"name": "pts"}, "transform": [{"filter": "datum.p == 'a' && (datum.k == 'd' || datum.k == 't')"}], "mark": {"type": "circle", "color": "black", "opacity": 1},
       "encoding": {"x": {"field": "x", "type": "quantitative", "axis": null}, "y": {"field": "y", "type": "quantitative", "axis": null}, "size": {"field": "k", "type": "ordinal", "scale": {"domain": ["o", "O", "d", "t"], "range": [24, 48, 22, 6]}, "legend": null}}}
    ]
  },
  {
    "width": 155, "height": 463,
    "title": {"text": "Hirt-Nichols"},
    "resolve": {"axis": {"x": "independent", "y": "independent"}},
    "layer": [
      {"data": {"name": "frame"}, "mark": {"type": "point", "opacity": 0},
       "encoding": {
         "x": {"field": "x", "type": "quantitative", "scale": {"domain": [0, 1], "nice": false, "zero": false}, "axis": {"orient": "bottom", "values": [0, 0.5, 1], "format": ".1f", "tickSize": -9, "title": "(b)"}},
         "y": {"field": "y", "type": "quantitative", "scale": {"domain": [0, 3], "nice": false, "zero": false}, "axis": {"orient": "left", "values": [0, 0.5, 1, 1.5, 2, 2.5, 3], "format": ".1f", "tickSize": -9, "title": null}}}},
      {"data": {"name": "frame"}, "mark": {"type": "point", "opacity": 0},
       "encoding": {
         "x": {"field": "x", "type": "quantitative", "axis": {"orient": "bottom", "values": [0.1,0.2,0.3,0.4,0.6,0.7,0.8,0.9], "tickSize": -5, "labels": false, "title": null}},
         "y": {"field": "y", "type": "quantitative", "axis": {"orient": "left", "values": [0.1,0.2,0.3,0.4,0.6,0.7,0.8,0.9,1.1,1.2,1.3,1.4,1.6,1.7,1.8,1.9,2.1,2.2,2.3,2.4,2.6,2.7,2.8,2.9], "tickSize": -5, "labels": false, "title": null}}}},
      {"data": {"name": "frame"}, "mark": {"type": "point", "opacity": 0},
       "encoding": {
         "x": {"field": "x", "type": "quantitative", "axis": {"orient": "top", "values": [0.5], "tickSize": -9, "labels": false, "title": null}},
         "y": {"field": "y", "type": "quantitative", "axis": {"orient": "right", "values": [0.5, 1, 1.5, 2, 2.5], "tickSize": -9, "labels": false, "title": null}}}},
      {"data": {"name": "frame"}, "mark": {"type": "point", "opacity": 0},
       "encoding": {
         "x": {"field": "x", "type": "quantitative", "axis": {"orient": "top", "values": [0.1,0.2,0.3,0.4,0.6,0.7,0.8,0.9], "tickSize": -5, "labels": false, "title": null}},
         "y": {"field": "y", "type": "quantitative", "axis": {"orient": "right", "values": [0.1,0.2,0.3,0.4,0.6,0.7,0.8,0.9,1.1,1.2,1.3,1.4,1.6,1.7,1.8,1.9,2.1,2.2,2.3,2.4,2.6,2.7,2.8,2.9], "tickSize": -5, "labels": false, "title": null}}}},
      {"data": {"name": "lines"}, "transform": [{"filter": "datum.p == 'b'"}], "mark": {"type": "line", "stroke": "black", "strokeWidth": 1.5},
       "encoding": {"x": {"field": "x", "type": "quantitative", "axis": null}, "y": {"field": "y", "type": "quantitative", "axis": null}, "detail": {"field": "id"}, "order": {"value": null}}},
      {"data": {"name": "pts"}, "transform": [{"filter": "datum.p == 'b' && (datum.k == 'o' || datum.k == 'O')"}], "mark": {"type": "point", "shape": "circle", "filled": false, "stroke": "black", "strokeWidth": 1.6, "opacity": 1},
       "encoding": {"x": {"field": "x", "type": "quantitative", "axis": null}, "y": {"field": "y", "type": "quantitative", "axis": null}, "size": {"field": "k", "type": "ordinal", "scale": {"domain": ["o", "O", "d", "t"], "range": [24, 48, 22, 6]}, "legend": null}}},
      {"data": {"name": "pts"}, "transform": [{"filter": "datum.p == 'b' && (datum.k == 'd' || datum.k == 't')"}], "mark": {"type": "circle", "color": "black", "opacity": 1},
       "encoding": {"x": {"field": "x", "type": "quantitative", "axis": null}, "y": {"field": "y", "type": "quantitative", "axis": null}, "size": {"field": "k", "type": "ordinal", "scale": {"domain": ["o", "O", "d", "t"], "range": [24, 48, 22, 6]}, "legend": null}}}
    ]
  },
  {
    "width": 154, "height": 463,
    "title": {"text": "FCT-VOF"},
    "resolve": {"axis": {"x": "independent", "y": "independent"}},
    "layer": [
      {"data": {"name": "frame"}, "mark": {"type": "point", "opacity": 0},
       "encoding": {
         "x": {"field": "x", "type": "quantitative", "scale": {"domain": [0, 1], "nice": false, "zero": false}, "axis": {"orient": "bottom", "values": [0, 0.5, 1], "format": ".1f", "tickSize": -9, "title": "(c)"}},
         "y": {"field": "y", "type": "quantitative", "scale": {"domain": [0, 3], "nice": false, "zero": false}, "axis": {"orient": "left", "values": [0, 0.5, 1, 1.5, 2, 2.5, 3], "format": ".1f", "tickSize": -9, "title": null}}}},
      {"data": {"name": "frame"}, "mark": {"type": "point", "opacity": 0},
       "encoding": {
         "x": {"field": "x", "type": "quantitative", "axis": {"orient": "bottom", "values": [0.1,0.2,0.3,0.4,0.6,0.7,0.8,0.9], "tickSize": -5, "labels": false, "title": null}},
         "y": {"field": "y", "type": "quantitative", "axis": {"orient": "left", "values": [0.1,0.2,0.3,0.4,0.6,0.7,0.8,0.9,1.1,1.2,1.3,1.4,1.6,1.7,1.8,1.9,2.1,2.2,2.3,2.4,2.6,2.7,2.8,2.9], "tickSize": -5, "labels": false, "title": null}}}},
      {"data": {"name": "frame"}, "mark": {"type": "point", "opacity": 0},
       "encoding": {
         "x": {"field": "x", "type": "quantitative", "axis": {"orient": "top", "values": [0.5], "tickSize": -9, "labels": false, "title": null}},
         "y": {"field": "y", "type": "quantitative", "axis": {"orient": "right", "values": [0.5, 1, 1.5, 2, 2.5], "tickSize": -9, "labels": false, "title": null}}}},
      {"data": {"name": "frame"}, "mark": {"type": "point", "opacity": 0},
       "encoding": {
         "x": {"field": "x", "type": "quantitative", "axis": {"orient": "top", "values": [0.1,0.2,0.3,0.4,0.6,0.7,0.8,0.9], "tickSize": -5, "labels": false, "title": null}},
         "y": {"field": "y", "type": "quantitative", "axis": {"orient": "right", "values": [0.1,0.2,0.3,0.4,0.6,0.7,0.8,0.9,1.1,1.2,1.3,1.4,1.6,1.7,1.8,1.9,2.1,2.2,2.3,2.4,2.6,2.7,2.8,2.9], "tickSize": -5, "labels": false, "title": null}}}},
      {"data": {"name": "lines"}, "transform": [{"filter": "datum.p == 'c'"}], "mark": {"type": "line", "stroke": "black", "strokeWidth": 1.5},
       "encoding": {"x": {"field": "x", "type": "quantitative", "axis": null}, "y": {"field": "y", "type": "quantitative", "axis": null}, "detail": {"field": "id"}, "order": {"value": null}}},
      {"data": {"name": "pts"}, "transform": [{"filter": "datum.p == 'c' && (datum.k == 'o' || datum.k == 'O')"}], "mark": {"type": "point", "shape": "circle", "filled": false, "stroke": "black", "strokeWidth": 1.6, "opacity": 1},
       "encoding": {"x": {"field": "x", "type": "quantitative", "axis": null}, "y": {"field": "y", "type": "quantitative", "axis": null}, "size": {"field": "k", "type": "ordinal", "scale": {"domain": ["o", "O", "d", "t"], "range": [24, 48, 22, 6]}, "legend": null}}},
      {"data": {"name": "pts"}, "transform": [{"filter": "datum.p == 'c' && (datum.k == 'd' || datum.k == 't')"}], "mark": {"type": "circle", "color": "black", "opacity": 1},
       "encoding": {"x": {"field": "x", "type": "quantitative", "axis": null}, "y": {"field": "y", "type": "quantitative", "axis": null}, "size": {"field": "k", "type": "ordinal", "scale": {"domain": ["o", "O", "d", "t"], "range": [24, 48, 22, 6]}, "legend": null}}}
    ]
  },
  {
    "width": 157, "height": 463,
    "title": {"text": "Youngs"},
    "resolve": {"axis": {"x": "independent", "y": "independent"}},
    "layer": [
      {"data": {"name": "frame"}, "mark": {"type": "point", "opacity": 0},
       "encoding": {
         "x": {"field": "x", "type": "quantitative", "scale": {"domain": [0, 1], "nice": false, "zero": false}, "axis": {"orient": "bottom", "values": [0, 0.5, 1], "format": ".1f", "tickSize": -9, "title": "(d)"}},
         "y": {"field": "y", "type": "quantitative", "scale": {"domain": [0, 3], "nice": false, "zero": false}, "axis": {"orient": "left", "values": [0, 0.5, 1, 1.5, 2, 2.5, 3], "format": ".1f", "tickSize": -9, "title": null}}}},
      {"data": {"name": "frame"}, "mark": {"type": "point", "opacity": 0},
       "encoding": {
         "x": {"field": "x", "type": "quantitative", "axis": {"orient": "bottom", "values": [0.1,0.2,0.3,0.4,0.6,0.7,0.8,0.9], "tickSize": -5, "labels": false, "title": null}},
         "y": {"field": "y", "type": "quantitative", "axis": {"orient": "left", "values": [0.1,0.2,0.3,0.4,0.6,0.7,0.8,0.9,1.1,1.2,1.3,1.4,1.6,1.7,1.8,1.9,2.1,2.2,2.3,2.4,2.6,2.7,2.8,2.9], "tickSize": -5, "labels": false, "title": null}}}},
      {"data": {"name": "frame"}, "mark": {"type": "point", "opacity": 0},
       "encoding": {
         "x": {"field": "x", "type": "quantitative", "axis": {"orient": "top", "values": [0.5], "tickSize": -9, "labels": false, "title": null}},
         "y": {"field": "y", "type": "quantitative", "axis": {"orient": "right", "values": [0.5, 1, 1.5, 2, 2.5], "tickSize": -9, "labels": false, "title": null}}}},
      {"data": {"name": "frame"}, "mark": {"type": "point", "opacity": 0},
       "encoding": {
         "x": {"field": "x", "type": "quantitative", "axis": {"orient": "top", "values": [0.1,0.2,0.3,0.4,0.6,0.7,0.8,0.9], "tickSize": -5, "labels": false, "title": null}},
         "y": {"field": "y", "type": "quantitative", "axis": {"orient": "right", "values": [0.1,0.2,0.3,0.4,0.6,0.7,0.8,0.9,1.1,1.2,1.3,1.4,1.6,1.7,1.8,1.9,2.1,2.2,2.3,2.4,2.6,2.7,2.8,2.9], "tickSize": -5, "labels": false, "title": null}}}},
      {"data": {"name": "lines"}, "transform": [{"filter": "datum.p == 'd'"}], "mark": {"type": "line", "stroke": "black", "strokeWidth": 1.5},
       "encoding": {"x": {"field": "x", "type": "quantitative", "axis": null}, "y": {"field": "y", "type": "quantitative", "axis": null}, "detail": {"field": "id"}, "order": {"value": null}}}
    ]
  },
  {
    "width": 155, "height": 463,
    "title": {"text": "I.C."},
    "resolve": {"axis": {"x": "independent", "y": "independent"}},
    "layer": [
      {"data": {"name": "frame"}, "mark": {"type": "point", "opacity": 0},
       "encoding": {
         "x": {"field": "x", "type": "quantitative", "scale": {"domain": [0, 1], "nice": false, "zero": false}, "axis": {"orient": "bottom", "values": [0, 0.5, 1], "format": ".1f", "tickSize": -9, "title": "(e)"}},
         "y": {"field": "y", "type": "quantitative", "scale": {"domain": [0, 3], "nice": false, "zero": false}, "axis": {"orient": "left", "values": [0, 0.5, 1, 1.5, 2, 2.5, 3], "format": ".1f", "tickSize": -9, "title": null}}}},
      {"data": {"name": "frame"}, "mark": {"type": "point", "opacity": 0},
       "encoding": {
         "x": {"field": "x", "type": "quantitative", "axis": {"orient": "bottom", "values": [0.1,0.2,0.3,0.4,0.6,0.7,0.8,0.9], "tickSize": -5, "labels": false, "title": null}},
         "y": {"field": "y", "type": "quantitative", "axis": {"orient": "left", "values": [0.1,0.2,0.3,0.4,0.6,0.7,0.8,0.9,1.1,1.2,1.3,1.4,1.6,1.7,1.8,1.9,2.1,2.2,2.3,2.4,2.6,2.7,2.8,2.9], "tickSize": -5, "labels": false, "title": null}}}},
      {"data": {"name": "frame"}, "mark": {"type": "point", "opacity": 0},
       "encoding": {
         "x": {"field": "x", "type": "quantitative", "axis": {"orient": "top", "values": [0.5], "tickSize": -9, "labels": false, "title": null}},
         "y": {"field": "y", "type": "quantitative", "axis": {"orient": "right", "values": [0.5, 1, 1.5, 2, 2.5], "tickSize": -9, "labels": false, "title": null}}}},
      {"data": {"name": "frame"}, "mark": {"type": "point", "opacity": 0},
       "encoding": {
         "x": {"field": "x", "type": "quantitative", "axis": {"orient": "top", "values": [0.1,0.2,0.3,0.4,0.6,0.7,0.8,0.9], "tickSize": -5, "labels": false, "title": null}},
         "y": {"field": "y", "type": "quantitative", "axis": {"orient": "right", "values": [0.1,0.2,0.3,0.4,0.6,0.7,0.8,0.9,1.1,1.2,1.3,1.4,1.6,1.7,1.8,1.9,2.1,2.2,2.3,2.4,2.6,2.7,2.8,2.9], "tickSize": -5, "labels": false, "title": null}}}},
      {"data": {"name": "lines"}, "transform": [{"filter": "datum.p == 'e'"}], "mark": {"type": "line", "stroke": "black", "strokeWidth": 1.5},
       "encoding": {"x": {"field": "x", "type": "quantitative", "axis": null}, "y": {"field": "y", "type": "quantitative", "axis": null}, "detail": {"field": "id"}, "order": {"value": null}}},
      {"data": {"name": "txt"}, "mark": {"type": "text", "align": "left", "baseline": "alphabetic", "font": "Liberation Sans", "fontSize": 21, "color": "black"},
       "encoding": {"x": {"field": "x", "type": "quantitative", "axis": null}, "y": {"field": "y", "type": "quantitative", "axis": null}, "text": {"field": "r"}}},
      {"data": {"name": "txt"}, "mark": {"type": "text", "align": "left", "baseline": "alphabetic", "font": "Liberation Sans", "fontSize": 14, "color": "black", "dx": 10, "dy": 7},
       "encoding": {"x": {"field": "x", "type": "quantitative", "axis": null}, "y": {"field": "y", "type": "quantitative", "axis": null}, "text": {"field": "s"}}},
      {"data": {"name": "txt"}, "mark": {"type": "text", "align": "left", "baseline": "alphabetic", "font": "Liberation Sans", "fontSize": 21, "color": "black", "dx": 21},
       "encoding": {"x": {"field": "x", "type": "quantitative", "axis": null}, "y": {"field": "y", "type": "quantitative", "axis": null}, "text": {"field": "v"}}}
    ]
  }
]
}
